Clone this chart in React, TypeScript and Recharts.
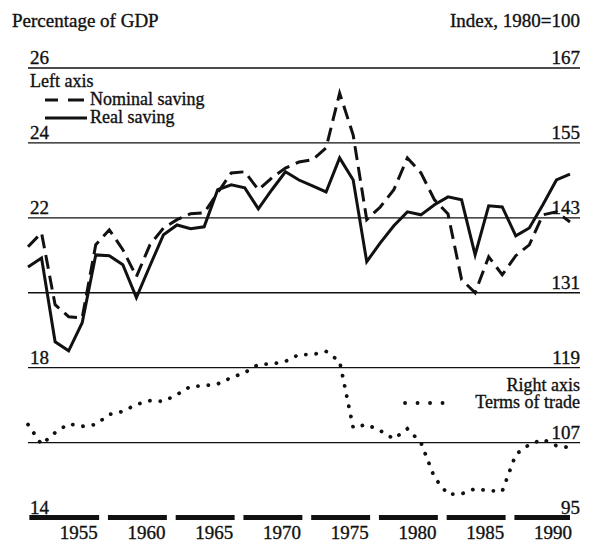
import { LineChart, Line, XAxis, YAxis, ReferenceLine, ReferenceArea } from "recharts";

const years = [
  1950, 1951, 1952, 1953, 1954, 1955, 1956, 1957, 1958, 1959,
  1960, 1961, 1962, 1963, 1964, 1965, 1966, 1967, 1968, 1969,
  1970, 1971, 1972, 1973, 1974, 1975, 1976, 1977, 1978, 1979,
  1980, 1981, 1982, 1983, 1984, 1985, 1986, 1987, 1988, 1989, 1990,
];

// percentage of GDP (left axis)
const nominalSaving = [
  21.23, 21.6, 19.68, 19.36, 19.33, 21.28, 21.68, 21.15, 20.43, 21.28,
  21.73, 21.95, 22.11, 22.13, 22.67, 23.2, 23.23, 22.75, 23.07, 23.33,
  23.49, 23.55, 23.87, 25.33, 24.21, 21.95, 22.29, 22.75, 23.6, 23.2,
  22.48, 22.1, 20.35, 20.0, 20.96, 20.48, 20.99, 21.28, 22.08, 22.16, 21.89,
];
const realSaving = [
  20.69, 20.93, 18.69, 18.45, 19.2, 21.01, 20.99, 20.75, 19.87, 20.72,
  21.55, 21.81, 21.71, 21.76, 22.75, 22.88, 22.8, 22.24, 22.75, 23.23,
  23.01, 22.85, 22.69, 23.6, 23.01, 20.83, 21.33, 21.79, 22.16, 22.08,
  22.35, 22.56, 22.48, 21.01, 22.32, 22.29, 21.52, 21.73, 22.35, 23.01, 23.17,
];
// index, 1980 = 100 (right axis)
const termsOfTrade = [
  109.9, 106.7, 108.6, 110.0, 109.6, 109.9, 111.5, 112.0, 113.1, 113.7,
  113.6, 114.7, 116.0, 116.1, 116.4, 117.4, 118.2, 119.5, 119.6, 120.0,
  121.1, 121.1, 121.6, 120.0, 109.4, 109.9, 108.9, 107.6, 109.2, 107.0,
  101.4, 98.7, 98.8, 99.6, 99.3, 99.2, 105.1, 106.7, 107.5, 106.5, 106.2,
];

const xTicks = [1955, 1960, 1965, 1970, 1975, 1980, 1985, 1990];
const leftTicks = [14, 18, 22, 24, 26];
const rightTicks = [95, 107, 119, 131, 143, 155, 167];
const gridLines = [16, 18, 20, 22, 24, 26];

const data = years.map((year, i) => ({
  year,
  nominal: nominalSaving[i],
  real: realSaving[i],
  tot: termsOfTrade[i],
}));

const INK = "#111";
const FONT = "'Liberation Serif', 'DejaVu Serif', serif";
const FS = 19;
const textInk = { fill: INK, stroke: INK, strokeWidth: 0.35 };

const LeftTick = ({ x, y, payload }: any) => (
  <text x={x + 10} y={y} dy={-4} textAnchor="start" fontFamily={FONT} fontSize={FS} {...textInk}>
    {payload.value}
  </text>
);

const RightTick = ({ x, y, payload }: any) => (
  <text x={x - 8} y={y} dy={-4} textAnchor="end" fontFamily={FONT} fontSize={FS} {...textInk}>
    {payload.value}
  </text>
);

const YearTick = ({ x, y, payload }: any) => (
  <text x={x + 2} y={y} dy={13} textAnchor="end" fontFamily={FONT} fontSize={FS} {...textInk}>
    {payload.value}
  </text>
);

export default function App() {
  return (
    <div style={{ position: "absolute", left: 0, top: 0, width: 592, height: 541, background: "#fff" }}>
      <LineChart
        width={592}
        height={541}
        data={data}
        margin={{ top: 68, right: 11, bottom: 3.5, left: 27 }}
      >
        <XAxis
          dataKey="year"
          type="number"
          domain={[1950, 1990.74]}
          ticks={xTicks}
          axisLine={false}
          tickLine={false}
          height={20}
          tick={<YearTick />}
          interval={0}
        />
        <YAxis
          yAxisId="left"
          domain={[14, 26]}
          ticks={leftTicks}
          width={1}
          axisLine={false}
          tickLine={false}
          tick={<LeftTick />}
          interval={0}
        />
        <YAxis
          yAxisId="right"
          orientation="right"
          domain={[95, 167]}
          ticks={rightTicks}
          width={1}
          axisLine={false}
          tickLine={false}
          tick={<RightTick />}
          interval={0}
        />
        {gridLines.map((v) => (
          <ReferenceLine key={v} yAxisId="left" y={v} stroke={INK} strokeWidth={1.3} />
        ))}
        {xTicks.map((yr, i) => (
          <ReferenceArea
            key={yr}
            yAxisId="left"
            x1={i === 0 ? 1950.1 : yr - 4.1}
            x2={Math.min(yr + 0.25, 1990)}
            y1={13.93}
            y2={14.07}
            fill={INK}
            fillOpacity={1}
            stroke="none"
            ifOverflow="visible"
          />
        ))}
        <Line
          yAxisId="left"
          dataKey="nominal"
          stroke={INK}
          strokeWidth={3}
          strokeDasharray="14 7"
          dot={false}
          isAnimationActive={false}
        />
        <Line
          yAxisId="left"
          dataKey="real"
          stroke={INK}
          strokeWidth={3}
          dot={false}
          isAnimationActive={false}
        />
        <Line
          yAxisId="right"
          dataKey="tot"
          stroke={INK}
          strokeWidth={3.8}
          strokeDasharray="0.1 10.3"
          strokeLinecap="round"
          dot={false}
          isAnimationActive={false}
        />
      </LineChart>

      <svg
        width={592}
        height={541}
        style={{ position: "absolute", left: 0, top: 0, pointerEvents: "none" }}
        fontFamily={FONT}
        fontSize={FS}
        {...textInk}
      >
        <text x={12} y={27}>Percentage of GDP</text>
        <text x={580} y={27} textAnchor="end">Index, 1980=100</text>

        <g fontSize={18}>
          <text x={30} y={87}>Left axis</text>
          <text x={90} y={105}>Nominal saving</text>
          <text x={90} y={123}>Real saving</text>
          <text x={580} y={391} textAnchor="end">Right axis</text>
          <text x={580} y={408} textAnchor="end">Terms of trade</text>
        </g>
        <line x1={45} y1={100} x2={58} y2={100} stroke={INK} strokeWidth={3} />
        <line x1={68} y1={100} x2={84} y2={100} stroke={INK} strokeWidth={3} />
        <line x1={45} y1={118} x2={87} y2={118} stroke={INK} strokeWidth={3} />
        <line
          x1={405}
          y1={403}
          x2={443}
          y2={403}
          stroke={INK}
          strokeWidth={3.8}
          strokeDasharray="0.1 12.4"
          strokeLinecap="round"
        />
      </svg>
    </div>
  );
}
